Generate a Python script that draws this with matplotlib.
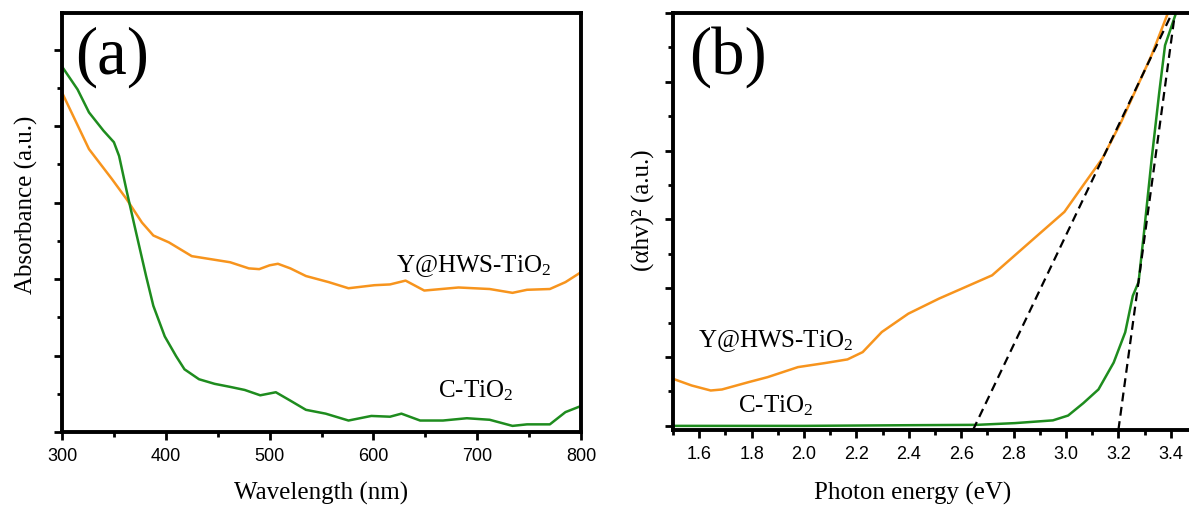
import matplotlib
matplotlib.use("Agg")
import matplotlib.pyplot as plt
from matplotlib.ticker import MultipleLocator

plt.rcParams['mathtext.default'] = 'regular'
SERIF = 'Liberation Serif'
SANS = 'Liberation Sans'

# ---------------- data ----------------
# panel (a): absorbance vs wavelength
wl_y = [300, 326, 348, 362, 377, 388, 403, 425, 462, 480, 490, 500, 508, 520, 535, 557, 576,
        601, 616, 631, 649, 682, 712, 734, 748, 770, 785, 800]
abs_y = [4.44, 3.70, 3.31, 3.05, 2.74, 2.57, 2.48, 2.30, 2.22, 2.14, 2.13, 2.18, 2.20, 2.14,
         2.04, 1.96, 1.88, 1.92, 1.93, 1.98, 1.85, 1.89, 1.87, 1.82, 1.86, 1.87, 1.96, 2.09]

wl_c = [300, 315, 326, 340, 350, 355, 362.5, 370, 381, 388, 399, 410, 418, 432, 447, 462, 476,
        491, 506, 520, 535, 554, 576, 598, 616, 627, 645, 667, 690, 712, 734, 748, 770, 785, 800]
abs_c = [4.78, 4.48, 4.18, 3.94, 3.79, 3.61, 3.14, 2.69, 2.04, 1.65, 1.25, 0.99, 0.82, 0.69,
         0.63, 0.59, 0.55, 0.48, 0.52, 0.41, 0.29, 0.24, 0.15, 0.21, 0.20, 0.24, 0.15, 0.15,
         0.18, 0.16, 0.08, 0.10, 0.10, 0.26, 0.34]

# panel (b): Tauc plot
e_y = [1.50, 1.571, 1.644, 1.687, 1.789, 1.861, 1.977, 2.079, 2.166, 2.224, 2.297, 2.398, 2.515,
       2.602, 2.718, 2.805, 2.892, 2.994, 3.066, 3.139, 3.211, 3.269, 3.327, 3.389]
t_y = [0.684, 0.587, 0.514, 0.529, 0.636, 0.708, 0.854, 0.912, 0.966, 1.072, 1.364, 1.630, 1.849,
       1.994, 2.188, 2.479, 2.770, 3.110, 3.498, 3.887, 4.421, 4.905, 5.390, 6.0]

e_c = [1.50, 2.0, 2.413, 2.66, 2.805, 2.95, 3.008, 3.066, 3.124, 3.182, 3.226, 3.255, 3.277,
       3.298, 3.327, 3.356, 3.378, 3.42]
t_c = [0.0, 0.0, 0.01, 0.015, 0.04, 0.08, 0.15, 0.33, 0.53, 0.92, 1.36, 1.89, 2.09,
       2.82, 3.88, 4.85, 5.53, 6.0]

fit_y_x = [2.645, 3.405]
fit_y_t = [-0.06, 6.0]
fit_c_x = [3.20, 3.416]
fit_c_t = [-0.06, 6.0]

ORANGE = '#F7941D'
GREEN = '#1E8C1E'

fig = plt.figure(figsize=(11.89, 5.10), dpi=100)
axa = fig.add_axes([62/1189, 77/510, 519/1189, 419/510])
axb = fig.add_axes([673/1189, 79/510, 524/1189, 417/510])


def style(ax):
    for s in ['left', 'bottom', 'top', 'right']:
        ax.spines[s].set_linewidth(2.8)
    ax.tick_params(which='both', direction='out', top=False, right=False,
                   labelleft=False, width=2.0)
    ax.tick_params(which='major', length=5.5, labelsize=13, pad=5)
    ax.tick_params(which='minor', length=3.5)
    for lab in ax.get_xticklabels():
        lab.set_fontfamily(SANS)


# ---- panel a ----
axa.plot(wl_y, abs_y, color=ORANGE, lw=1.8)
axa.plot(wl_c, abs_c, color=GREEN, lw=1.8)
axa.set_xlim(300, 800)
axa.set_ylim(0, 5.48)
axa.xaxis.set_major_locator(MultipleLocator(100))
axa.xaxis.set_minor_locator(MultipleLocator(50))
axa.yaxis.set_major_locator(MultipleLocator(1))
axa.yaxis.set_minor_locator(MultipleLocator(0.5))
style(axa)
axa.text(0.025, 0.97, '(a)', transform=axa.transAxes, fontsize=48, family=SERIF,
         ha='left', va='top')
axa.text(697, 2.10, 'Y@HWS-TiO$_2$', fontsize=18, family=SERIF, ha='center', va='baseline')
axa.text(698, 0.47, 'C-TiO$_2$', fontsize=18, family=SERIF, ha='center', va='baseline')
axa.set_xlabel('Wavelength (nm)', fontsize=18, family=SERIF)
axa.xaxis.set_label_coords(0.5, -(482 - 433) / 419)
axa.set_ylabel('Absorbance (a.u.)', fontsize=18, family=SERIF)
axa.yaxis.set_label_coords(-(62 - 38) / 519, 0.545)

# ---- panel b ----
axb.plot(e_y, t_y, color=ORANGE, lw=1.8)
axb.plot(e_c, t_c, color=GREEN, lw=1.8)
axb.plot(fit_y_x, fit_y_t, color='black', lw=1.6, ls=(0, (4, 2.5)))
axb.plot(fit_c_x, fit_c_t, color='black', lw=1.6, ls=(0, (4, 2.5)))
axb.set_xlim(1.5, 3.5)
axb.set_ylim(-0.06, 6.0)
axb.xaxis.set_major_locator(MultipleLocator(0.2))
axb.xaxis.set_minor_locator(MultipleLocator(0.1))
axb.yaxis.set_major_locator(MultipleLocator(1))
axb.yaxis.set_minor_locator(MultipleLocator(0.5))
axb.set_xticks([1.6, 1.8, 2.0, 2.2, 2.4, 2.6, 2.8, 3.0, 3.2, 3.4])
axb.set_xticklabels(['1.6', '1.8', '2.0', '2.2', '2.4', '2.6', '2.8', '3.0', '3.2', '3.4'])
style(axb)
axb.spines['right'].set_visible(False)
axb.text(0.03, 0.97, '(b)', transform=axb.transAxes, fontsize=48, family=SERIF,
         ha='left', va='top')
axb.text(1.893, 1.165, 'Y@HWS-TiO$_2$', fontsize=18, family=SERIF, ha='center', va='baseline')
axb.text(1.893, 0.204, 'C-TiO$_2$', fontsize=18, family=SERIF, ha='center', va='baseline')
axb.set_xlabel('Photon energy (eV)', fontsize=18, family=SERIF)
axb.xaxis.set_label_coords((913 - 673) / 524, -(482 - 431) / 417)
axb.set_ylabel('(αhv)² (a.u.)', fontsize=18, family=SERIF)
axb.yaxis.set_label_coords(-(673 - 655) / 524, 0.53)

fig.savefig('out.png', dpi=100)
